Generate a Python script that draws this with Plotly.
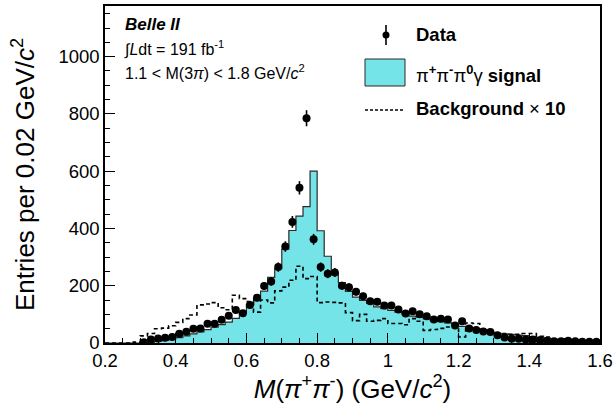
import plotly.graph_objects as go
import numpy as np

# ---------------- data ----------------
bin_width = 0.02
x_min, x_max = 0.2, 1.6
n_bins = 70

# data points (bins k=5..69, centers 0.31 .. 1.59)
data_first_bin = 5
data_counts = [3, 12, 16, 18, 21, 32, 39, 50, 51, 67, 67, 81, 95, 115, 104,
               133, 158, 199, 215, 265, 337, 423, 542, 785, 362, 265, 242, 246,
               200, 195, 179, 163, 146, 144, 131, 131, 117, 103, 111, 100, 93,
               82, 85, 82, 61, 76, 51, 45, 40, 38, 27, 19, 15, 15, 12, 12, 10,
               8, 6, 6, 8, 6, 4, 4, 4]

# signal MC histogram (all 70 bins)
signal = [0, 0, 0, 0, 0, 1, 3, 6, 9, 13, 19, 25, 32, 39, 47, 55, 64, 73, 86,
          105, 135, 156, 181, 229, 260, 328, 393, 443, 476, 600, 392, 303, 245,
          211, 180, 160, 149, 138, 126, 120, 114, 108, 102, 94, 90, 84, 78, 75,
          70, 68, 58, 55, 48, 42, 38, 34, 32, 30, 28, 26, 22, 20, 17, 14, 11,
          9, 7, 5, 4, 3]

# background x10 (all 70 bins)
background10 = [0, 0, 0, 0, 3, 25, 33, 50, 52, 60, 72, 85, 98, 133, 136, 141,
                123, 116, 167, 155, 145, 108, 150, 140, 182, 195, 219, 268, 225,
                232, 141, 143, 142, 140, 106, 78, 100, 76, 79, 85, 68, 68, 64,
                85, 76, 44, 47, 51, 56, 56, 21, 70, 68, 44, 38, 33, 33, 30, 30,
                33, 33, 23, 21, 10, 7, 10, 4, 0, 0, 0]

x_ticks = [0.2, 0.4, 0.6, 0.8, 1.0, 1.2, 1.4, 1.6]
x_tick_labels = ["0.2", "0.4", "0.6", "0.8", "1", "1.2", "1.4", "1.6"]
y_ticks = [0, 200, 400, 600, 800, 1000]

# ---------------- derived ----------------
edges = x_min + bin_width * np.arange(n_bins + 1)
step_x = list(edges)
sig_y = list(signal) + [signal[-1]]
bkg_y = list(background10) + [background10[-1]]

data_x = [x_min + bin_width * (data_first_bin + i + 0.5) for i in range(len(data_counts))]
data_err = [np.sqrt(v) for v in data_counts]

FONT = "Liberation Sans, Arial, sans-serif"
CYAN = "#74E4E8"

fig = go.Figure()

fig.add_trace(go.Scatter(
    x=step_x, y=sig_y, mode="lines", line_shape="hv",
    line=dict(color="#2a2a2a", width=1.2),
    fill="tozeroy", fillcolor=CYAN, showlegend=False, hoverinfo="skip"))

fig.add_trace(go.Scatter(
    x=step_x, y=bkg_y, mode="lines", line_shape="hv",
    line=dict(color="black", width=1.6, dash="4px,3px"),
    showlegend=False, hoverinfo="skip"))

fig.add_trace(go.Scatter(
    x=data_x, y=data_counts, mode="markers",
    marker=dict(color="black", size=8),
    error_y=dict(type="data", array=data_err, visible=True,
                 color="black", thickness=1.6, width=0),
    showlegend=False))

# ---------------- layout ----------------
L, R, T, B = 105, 15, 6, 64
W, H = 615, 407
pw, ph = W - L - R, H - T - B

def px(xpix):
    return (xpix - L) / pw

def py(ypix):
    return (H - B - ypix) / ph

shapes = []
# legend: Data symbol
shapes.append(dict(type="line", xref="paper", yref="paper",
                   x0=px(386), x1=px(386), y0=py(25), y1=py(45),
                   line=dict(color="black", width=1.6)))
shapes.append(dict(type="circle", xref="paper", yref="paper",
                   x0=px(382.5), x1=px(389.5), y0=py(38.5), y1=py(31.5),
                   fillcolor="black", line=dict(color="black", width=0)))
# legend: signal box
shapes.append(dict(type="rect", xref="paper", yref="paper",
                   x0=px(365), x1=px(405), y0=py(86), y1=py(59),
                   fillcolor=CYAN, line=dict(color="#2a2a2a", width=1)))
# legend: background dashed line
shapes.append(dict(type="line", xref="paper", yref="paper",
                   x0=px(365), x1=px(405), y0=py(110), y1=py(110),
                   line=dict(color="black", width=1.4, dash="3px,2px")))

ann = []
def add_text(text, xpix, ypix, size, **kw):
    ann.append(dict(text=text, xref="paper", yref="paper", x=px(xpix), y=py(ypix),
                    xanchor="left", yanchor="middle", showarrow=False,
                    font=dict(family=FONT, size=size, color="black"), **kw))

add_text("<b><i>Belle II</i></b>", 123, 25, 17)
add_text("∫<i>L</i>dt = 191 fb<sup>-1</sup>", 122, 49, 16)
add_text("1.1 &lt; M(3<i>π</i>) &lt; 1.8 GeV/<i>c</i><sup>2</sup>", 123, 72, 16)
add_text("<b>Data</b>", 414, 35, 18.5)
add_text("π<sup><b>+</b></sup>π<sup><b>-</b></sup>π<sup><b>0</b></sup>γ <b>signal</b>", 414, 74, 18.5)
add_text("<b>Background</b> × <b>10</b>", 414, 108, 18.5)

fig.update_layout(
    width=W, height=H,
    margin=dict(l=L, r=R, t=T, b=B, autoexpand=False),
    paper_bgcolor="white", plot_bgcolor="white",
    font=dict(family=FONT, size=18.5, color="black"),
    shapes=shapes, annotations=ann, showlegend=False,
    xaxis=dict(range=[x_min, x_max], tickmode="array", tickvals=x_ticks,
               ticktext=x_tick_labels,
               ticks="inside", ticklen=10, tickwidth=1, tickcolor="black",
               minor=dict(dtick=0.05, tick0=0, ticks="inside", ticklen=5,
                          tickcolor="black", showgrid=False),
               showline=True, linecolor="black", linewidth=1.5, mirror=True,
               showgrid=False, zeroline=False,
               tickfont=dict(size=18.5),
               title=dict(text="<i>M</i>(<i>π</i><sup>+</sup><i>π</i><sup>-</sup>) (GeV/<i>c</i><sup>2</sup>)",
                          font=dict(size=26), standoff=2)),
    yaxis=dict(range=[0, 1177], tickmode="array", tickvals=y_ticks,
               ticks="inside", ticklen=10, tickwidth=1, tickcolor="black",
               minor=dict(dtick=50, tick0=0, ticks="inside", ticklen=5,
                          tickcolor="black", showgrid=False),
               showline=True, linecolor="black", linewidth=1.5, mirror=True,
               showgrid=False, zeroline=False,
               tickfont=dict(size=18.5),
               title=dict(text="Entries per 0.02 GeV/<i>c</i><sup>2</sup>",
                          font=dict(size=26), standoff=16)),
)

fig.write_html("out.html", config={"displayModeBar": False},
               post_script="document.body.style.margin='0';")
